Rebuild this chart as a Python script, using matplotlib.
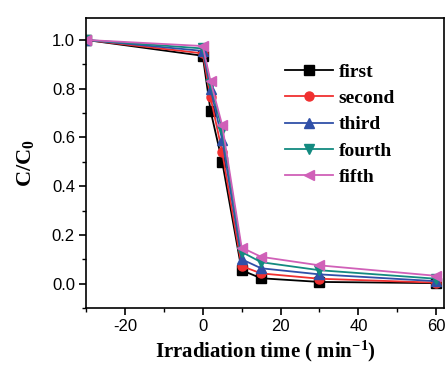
import matplotlib
matplotlib.use("Agg")
import matplotlib.pyplot as plt
from matplotlib.ticker import MultipleLocator, FormatStrFormatter

plt.rcParams['axes.unicode_minus'] = False
plt.rcParams['mathtext.fontset'] = 'custom'
plt.rcParams['mathtext.rm'] = 'Liberation Serif:bold'
plt.rcParams['mathtext.bf'] = 'Liberation Serif:bold'
plt.rcParams['mathtext.it'] = 'Liberation Serif:bold'

time = [-30, 0, 2, 5, 10, 15, 30, 60]
first = [1.0, 0.935, 0.71, 0.50, 0.055, 0.022, 0.007, 0.002]
second = [1.0, 0.945, 0.765, 0.54, 0.072, 0.042, 0.02, 0.004]
third = [1.0, 0.955, 0.80, 0.59, 0.10, 0.063, 0.038, 0.01]
fourth = [1.0, 0.965, 0.82, 0.63, 0.13, 0.088, 0.055, 0.02]
fifth = [1.0, 0.975, 0.83, 0.65, 0.148, 0.11, 0.075, 0.032]

series = [
    ("first", first, "black", "s"),
    ("second", second, "#f03030", "o"),
    ("third", third, "#3050a8", "^"),
    ("fourth", fourth, "#138a80", "v"),
    ("fifth", fifth, "#d060b8", "<"),
]

fig = plt.figure(figsize=(4.46, 3.66), dpi=100)
ax = fig.add_axes([86/446, 1 - 308/366, (444-86)/446, (308-18)/366])

for name, vals, col, mk in series:
    ax.plot(time, vals, color=col, marker=mk, markersize=6.5, linewidth=1.3, label=name)

ax.set_xlim(-30, 62)
ax.set_ylim(-0.1, 1.09)
ax.xaxis.set_major_locator(MultipleLocator(20))
ax.xaxis.set_minor_locator(MultipleLocator(10))
ax.yaxis.set_major_locator(MultipleLocator(0.2))
ax.yaxis.set_minor_locator(MultipleLocator(0.1))
ax.yaxis.set_major_formatter(FormatStrFormatter('%.1f'))
ax.tick_params(which='major', direction='out', length=5, width=1.2, labelsize=12, pad=3)
ax.tick_params(which='minor', direction='out', length=3, width=1.0)
for lab in ax.get_xticklabels() + ax.get_yticklabels():
    lab.set_fontfamily("Liberation Sans")
for s in ax.spines.values():
    s.set_linewidth(1.2)

ax.set_xlabel("Irradiation time ( min$^{-1}$)", fontfamily="Liberation Serif",
              fontweight="bold", fontsize=15)
ax.xaxis.set_label_coords(0.5, (308 - 339) / 290)
ax.set_ylabel("C/C$_{0}$", fontfamily="Liberation Serif", fontweight="bold", fontsize=16)
ax.yaxis.set_label_coords((36 - 86) / 358, 0.5)

leg = ax.legend(loc="upper left", bbox_to_anchor=((285 - 86) / 358, (308 - 63) / 290),
                frameon=False, borderpad=0, borderaxespad=0,
                prop={"family": "Liberation Serif", "weight": "bold", "size": 14},
                handlelength=2.47, handletextpad=0.3, labelspacing=0.45)

fig.savefig("out.png", dpi=100)
